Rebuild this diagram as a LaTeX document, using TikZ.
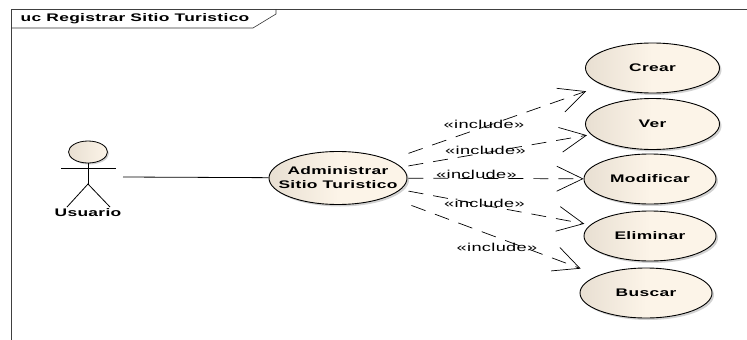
\documentclass[tikz,border=0pt]{standalone}
\usepackage{fontspec}
\setmainfont[FakeStretch=1.58,LetterSpace=3]{Liberation Sans}
\usetikzlibrary{shapes.geometric, arrows.meta, shadows}
\definecolor{caselight}{RGB}{252, 244, 232}
\definecolor{casedark}{RGB}{232, 223, 210}

\tikzset{
  usecase/.style={ellipse, draw=black, line width=0.9pt, left color=casedark, right color=caselight, middle color=caselight,
    minimum width=#1, minimum height=50pt, inner sep=0pt,
    drop shadow={shadow xshift=2pt, shadow yshift=-2pt, fill=black!35}},
  usecase/.default=132pt,
  casetext/.style={align=center, inner sep=0pt, font=\fontsize{11}{14}\selectfont\bfseries},
  includeline/.style={line width=0.7pt, dash pattern=on 15pt off 10pt, -{Straight Barb[length=26pt, width=25pt, line width=0.7pt]}},
  includelabel/.style={font=\fontsize{11.5}{13}\selectfont, inner sep=0pt},
  actorline/.style={line width=0.8pt, black}
}

\begin{document}
\begin{tikzpicture}[x=1pt, y=-1pt]
  \useasboundingbox (0,0) rectangle (747,340);

  \draw[line width=0.9pt, black!75] (11,340) -- (11,9) -- (747,9);
  \node[font=\fontsize{11}{13}\selectfont\bfseries, inner sep=0pt] (title) at (135,19) {uc Registrar Sitio Turistico};
  \draw[line width=0.6pt, black!80] (11,28) -- (253,28) -- (276,14) -- (276,9);

  \node[usecase=138pt, minimum height=53pt, label={[casetext]center:{Administrar\\Sitio Turistico}}] (admin) at (338,178) {};
  \node[usecase=134pt, label={[casetext]center:Crear}] (crear) at (652.5,68) {};
  \node[usecase=134pt, minimum height=51pt, label={[casetext]center:Ver}] (ver) at (652.5,124) {};
  \node[usecase, label={[casetext]center:Modificar}] (modificar) at (650,179) {};
  \node[usecase, label={[casetext]center:Eliminar}] (eliminar) at (650,236) {};
  \node[usecase, label={[casetext]center:Buscar}] (buscar) at (646,293) {};

  \node[ellipse, draw=black, line width=0.8pt, left color=casedark, right color=caselight, minimum width=39pt, minimum height=22pt, inner sep=0pt,
    drop shadow={shadow xshift=1.5pt, shadow yshift=-1.5pt, fill=black!35}] (head) at (88,152) {};
  \coordinate (hip) at (88,184);
  \coordinate (armleft) at (61,168);
  \coordinate (armright) at (116,168);
  \coordinate (footleft) at (67,207);
  \coordinate (footright) at (110,207);
  \draw[actorline] (head) -- (hip);
  \draw[actorline] (armleft) -- (armright);
  \draw[actorline] (footleft) -- (hip) -- (footright);
  \node[font=\fontsize{11}{13}\selectfont\bfseries, inner sep=0pt] (usuario) at (88,213) {Usuario};

  \coordinate (actorend) at (123,177);
  \draw[line width=0.8pt] (actorend) -- (admin);

  \draw[includeline, shorten <=20pt, shorten >=18pt] (admin) -- (crear);
  \draw[includeline, shorten <=7pt, shorten >=4pt] (admin) -- (ver);
  \draw[includeline, shorten <=1pt] (admin) -- (modificar);
  \draw[includeline, shorten <=8pt, shorten >=6pt] (admin) -- (eliminar);
  \draw[includeline, shorten <=25pt, shorten >=19pt] (admin) -- (buscar);

  \node[includelabel] (inccrear) at (484,124) {«include»};
  \node[includelabel] (incver) at (485.5,150) {«include»};
  \node[includelabel] (incmodificar) at (476.5,174) {«include»};
  \node[includelabel] (inceliminar) at (484.5,203) {«include»};
  \node[includelabel] (incbuscar) at (497,247) {«include»};
\end{tikzpicture}
\end{document}
